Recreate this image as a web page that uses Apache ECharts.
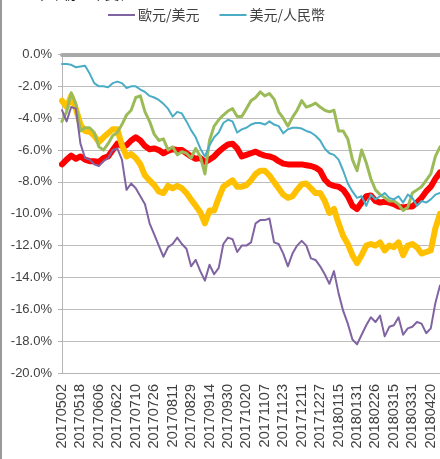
<!DOCTYPE html>
<html><head><meta charset="utf-8">
<script src="https://cdn.jsdelivr.net/npm/echarts@6/dist/echarts.min.js"></script>
<style>html,body{margin:0;padding:0;background:#fff}#c{width:440px;height:459px}</style>
</head><body><div id="c"></div>
<script>
// tick labels (every 4th sample point)
const tickLabels = ['20170502','20170518','20170606','20170622','20170710','20170726','20170811','20170829','20170914','20170930','20171020','20171107','20171123','20171211','20171227','20180115','20180131','20180226','20180315','20180331','20180420'];
const stepsPerLabel = 4;
const pointCount = 83;

const eurUsd = [-3.5,-4.2,-3.3,-3.4,-5.6,-6.5,-6.6,-6.9,-7.0,-6.7,-6.5,-6.0,-5.9,-6.6,-8.5,-8.1,-8.4,-8.9,-9.4,-10.6,-11.3,-12.0,-12.7,-12.1,-11.9,-11.5,-11.9,-12.2,-13.3,-12.9,-13.6,-14.2,-13.2,-13.8,-13.4,-11.9,-11.5,-11.6,-12.4,-12.0,-12.0,-11.8,-10.6,-10.4,-10.4,-10.3,-11.8,-11.9,-12.5,-13.3,-12.5,-12.0,-11.7,-12.0,-12.8,-12.9,-13.3,-13.8,-14.4,-13.6,-15.0,-16.1,-16.9,-17.9,-18.2,-17.6,-17.0,-16.5,-16.8,-16.4,-17.7,-17.1,-17.0,-16.5,-17.6,-17.2,-17.1,-16.8,-16.9,-17.5,-17.2,-15.6,-14.5];
const usdCny = [-0.6,-0.6,-0.65,-0.8,-0.75,-0.7,-1.2,-1.8,-2.0,-2.0,-2.05,-1.8,-1.7,-1.8,-2.1,-2.0,-2.0,-2.2,-2.35,-2.6,-2.7,-2.85,-3.1,-3.4,-3.9,-3.6,-3.7,-4.2,-4.75,-5.2,-5.9,-6.4,-5.7,-5.2,-4.9,-4.3,-4.1,-4.2,-4.9,-4.7,-4.6,-4.4,-4.3,-4.3,-4.4,-4.2,-4.4,-4.5,-4.95,-4.7,-4.6,-4.6,-4.65,-4.8,-4.9,-5.1,-5.4,-5.9,-6.2,-6.3,-6.6,-7.3,-8.1,-8.6,-9.0,-8.9,-9.5,-8.8,-9.1,-8.9,-8.7,-9.0,-9.1,-8.9,-9.3,-8.8,-9.0,-9.5,-9.2,-9.3,-9.1,-8.8,-8.7];
const greenSeries = [-4.2,-3.6,-2.4,-3.1,-4.8,-4.6,-4.6,-4.9,-5.8,-6.0,-5.6,-5.1,-4.9,-4.4,-3.8,-3.5,-2.7,-2.6,-3.6,-4.2,-5.0,-5.4,-5.3,-6.0,-5.8,-6.3,-6.1,-6.2,-6.5,-5.9,-6.4,-7.5,-5.4,-4.5,-4.1,-3.8,-3.55,-3.4,-3.9,-3.9,-3.4,-2.9,-2.7,-2.35,-2.6,-2.45,-2.8,-3.6,-4.0,-4.5,-3.95,-3.5,-2.9,-3.3,-3.2,-3.05,-3.3,-3.5,-3.6,-3.5,-4.8,-4.8,-5.3,-6.6,-7.3,-6.0,-6.8,-7.8,-8.5,-8.8,-9.0,-9.2,-9.2,-9.4,-9.8,-9.6,-8.7,-8.5,-8.3,-7.9,-7.5,-6.4,-5.8];
const redSeries = [-6.9,-6.6,-6.35,-6.55,-6.4,-6.6,-6.7,-6.7,-6.75,-6.5,-6.4,-6.0,-5.6,-5.75,-5.7,-5.4,-5.2,-5.4,-5.75,-5.95,-5.9,-6.0,-6.2,-6.05,-5.95,-6.0,-6.0,-6.2,-6.4,-6.55,-6.5,-6.75,-6.6,-6.4,-6.1,-5.85,-5.65,-5.6,-5.9,-6.4,-6.3,-6.2,-6.1,-6.25,-6.35,-6.4,-6.5,-6.7,-6.85,-6.9,-6.9,-6.9,-6.9,-6.95,-7.0,-7.1,-7.3,-7.85,-8.15,-8.25,-8.3,-8.5,-8.9,-9.5,-9.7,-9.3,-8.9,-8.85,-9.2,-9.3,-9.25,-9.3,-9.4,-9.55,-9.6,-9.55,-9.55,-9.3,-9.0,-8.6,-8.3,-7.8,-7.4];
const orangeSeries = [-2.9,-3.3,-2.6,-3.4,-4.4,-4.8,-4.85,-5.1,-5.5,-5.2,-4.95,-4.7,-4.7,-5.7,-6.4,-6.25,-6.5,-6.9,-7.6,-7.9,-8.2,-8.6,-8.7,-8.25,-8.4,-8.25,-8.4,-8.7,-9.1,-9.5,-9.9,-10.6,-9.8,-9.8,-9.0,-8.3,-8.1,-7.9,-8.3,-8.3,-8.2,-7.9,-7.5,-7.3,-7.3,-7.6,-8.0,-8.4,-8.8,-9.0,-8.9,-8.5,-8.15,-8.1,-8.4,-8.7,-8.7,-9.2,-9.95,-9.7,-10.6,-11.4,-11.9,-12.6,-13.1,-12.6,-12.0,-11.9,-12.0,-11.8,-12.3,-12.0,-12.1,-11.8,-12.6,-12.0,-11.9,-12.1,-12.5,-12.4,-12.3,-10.9,-10.0];

const yMin = -20, yMax = 0, yStep = 2;

const categories = [];
for (let i = 0; i < pointCount; i++) {
  const k = Math.floor(i / stepsPerLabel);
  categories.push(i % stepsPerLabel === 0 && k < tickLabels.length ? tickLabels[k] : (tickLabels[Math.min(k, tickLabels.length-1)] + '_' + i));
}

const chart = echarts.init(document.getElementById('c'), null, {renderer:'canvas'});
function line(name, data, color, width) {
  return {name, type:'line', data, showSymbol:false, symbol:'none', xAxisIndex:0,
    lineStyle:{color, width, join:'round', cap:'round'}, itemStyle:{color}, animation:false};
}
chart.setOption({
  animation:false,
  backgroundColor:'#fff',
  textStyle:{fontFamily:'Liberation Sans, Noto Sans CJK TC, sans-serif'},
  title:{text:'匯率年初至今變化', left:16, top:-17, textStyle:{fontSize:14, fontWeight:'normal', color:'#222'}},
  legend:{data:['歐元/美元','美元/人民幣'], left:103, top:3, icon:'rect', itemWidth:27, itemHeight:2, itemGap:20,
    textStyle:{fontSize:14, color:'#404040', fontFamily:'Noto Sans CJK TC', padding:[0,0,0,-2]}},
  graphic:[{type:'rect', left:0, top:0, shape:{width:2, height:459}, style:{fill:'#9a9a9a'}}],
  grid:{left:62, right:-3.3, top:54.5, bottom:86, containLabel:false},
  xAxis:[
    {type:'category', data:categories, boundaryGap:false, position:'bottom',
     axisLine:{onZero:false, lineStyle:{color:'#b5b5b5', width:1}},
     axisTick:{show:false},
     axisLabel:{interval:stepsPerLabel-1, rotate:90, fontSize:14.5, color:'#404040', margin:11},
     splitLine:{show:false}},
    {type:'category', data:categories, boundaryGap:false, position:'top',
     axisLine:{onZero:false, lineStyle:{color:'#a8a8a8', width:4, type:[1,1]}},
     axisTick:{show:false}, axisLabel:{show:false}, splitLine:{show:false}}
  ],
  yAxis:{type:'value', min:yMin, max:yMax, interval:yStep,
    axisLine:{show:true, lineStyle:{color:'#b5b5b5'}},
    axisTick:{show:true, length:4, lineStyle:{color:'#b5b5b5'}},
    axisLabel:{fontSize:13, color:'#404040', margin:10, formatter:v=>v.toFixed(1)+'%'},
    splitLine:{lineStyle:{color:'#bdbdbd', width:1}}},
  series:[
    line('紅線', redSeries, '#ff0000', 6),
    line('橙線', orangeSeries, '#ffc000', 6),
    line('綠線', greenSeries, '#9bbb59', 3),
    line('美元/人民幣', usdCny, '#4bacc6', 2),
    line('歐元/美元', eurUsd, '#8064a2', 2)
  ]
});
</script></body></html>
